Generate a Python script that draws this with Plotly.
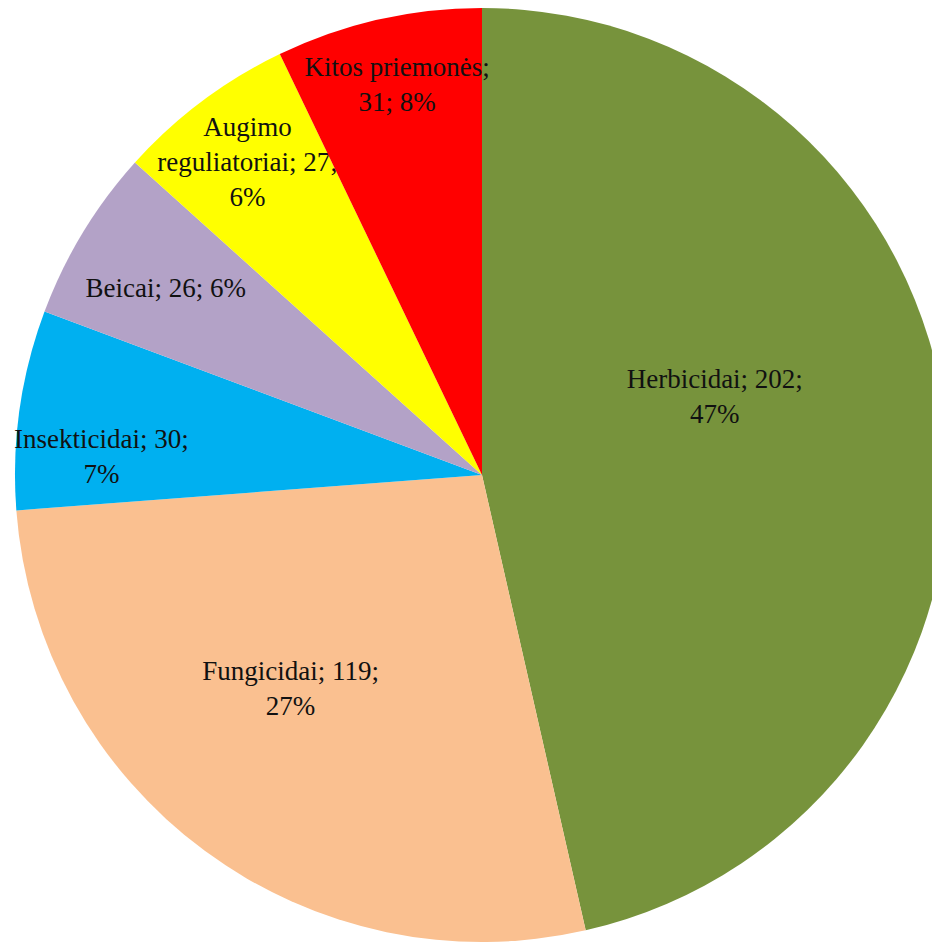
import plotly.graph_objects as go

categories = ["Herbicidai", "Fungicidai", "Insekticidai", "Beicai",
              "Augimo reguliatoriai", "Kitos priemonės"]
values = [202, 119, 30, 26, 27, 31]
percent_labels = ["47%", "27%", "7%", "6%", "6%", "8%"]
colors = ["#77933C", "#FAC090", "#00B0F0", "#B3A2C7", "#FFFF00", "#FF0000"]

PAD = "\u00a0"  # invisible padding used to nudge a label block

label_text = [
    f"{categories[0]}; {values[0]};<br>{percent_labels[0]}<br>{PAD}<br>{PAD}<br>{PAD}",
    f"{categories[1]}; {values[1]};{PAD * 10}<br>{percent_labels[1]}{PAD * 10}",
    f"{PAD}<br>{PAD}<br>{categories[2]}; {values[2]};<br>{percent_labels[2]}",
    f"{PAD}<br>{PAD * 6}{categories[3]}; {values[3]}; {percent_labels[3]}",
    f"Augimo<br>reguliatoriai; {values[4]};<br>{percent_labels[4]}",
    f"Kitos priemonės;<br>{values[5]}; {percent_labels[5]}<br>{PAD}",
]

fig = go.Figure(go.Pie(
    labels=categories,
    values=values,
    text=label_text,
    texttemplate="%{text}",
    textposition="inside",
    insidetextorientation="horizontal",
    sort=False,
    direction="clockwise",
    rotation=0,
    marker=dict(colors=colors, line=dict(width=0)),
    textfont=dict(family="Liberation Serif", size=27, color="#111111"),
    hoverinfo="label+value+percent",
    showlegend=False,
))

fig.update_layout(
    width=950, height=945,
    margin=dict(l=7, r=9, t=0, b=11),
    paper_bgcolor="white",
    plot_bgcolor="white",
    uniformtext=dict(minsize=27, mode="show"),
)

fig.write_html("out.html")
